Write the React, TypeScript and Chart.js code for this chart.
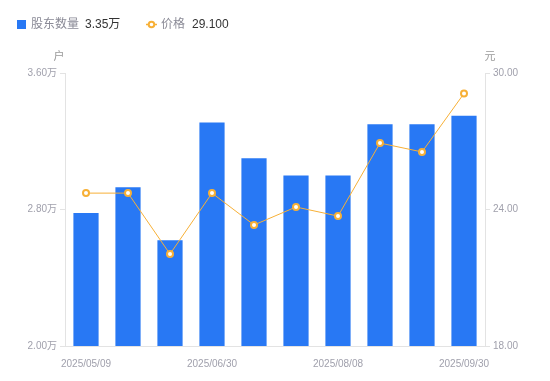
import React, { useEffect, useRef } from 'react';
import { Chart, registerables } from 'chart.js';

Chart.register(...registerables);

const dates = [
  '2025/05/09', '2025/05/20', '2025/06/10', '2025/06/30', '2025/07/10',
  '2025/07/20', '2025/08/08', '2025/08/20', '2025/09/10', '2025/09/30',
];
const holders = [2.78, 2.93, 2.62, 3.31, 3.1, 3.0, 3.0, 3.3, 3.3, 3.35];
const prices = [24.72, 24.72, 22.04, 24.72, 23.32, 24.11, 23.71, 26.92, 26.53, 29.1];
const shownIdx = [0, 3, 6, 9];

const BLUE = '#2878F4';
const ORANGE = '#F7B036';
const FONT = "'Liberation Sans', Arial, 'Noto Sans CJK SC', sans-serif";

const overlay = {
  id: 'overlay',
  afterDraw(chart: any) {
    const ctx = chart.ctx;
    ctx.save();
    ctx.textBaseline = 'middle';
    ctx.fillStyle = BLUE;
    ctx.fillRect(17, 20, 9, 9);
    ctx.font = `12px ${FONT}`;
    ctx.textAlign = 'left';
    ctx.fillStyle = '#8a8a96';
    ctx.fillText('股东数量', 31, 25);
    ctx.fillStyle = '#333';
    ctx.fillText(holders[holders.length - 1].toFixed(2) + '万', 85, 25);
    ctx.strokeStyle = ORANGE;
    ctx.lineWidth = 1.5;
    ctx.beginPath();
    ctx.moveTo(146, 24.5);
    ctx.lineTo(157, 24.5);
    ctx.stroke();
    ctx.beginPath();
    ctx.arc(151.5, 24.5, 2.8, 0, Math.PI * 2);
    ctx.fillStyle = '#fff';
    ctx.fill();
    ctx.lineWidth = 2;
    ctx.stroke();
    ctx.fillStyle = '#8a8a96';
    ctx.fillText('价格', 161, 25);
    ctx.fillStyle = '#333';
    ctx.fillText(prices[prices.length - 1].toFixed(3), 192, 25);
    ctx.fillStyle = '#999';
    ctx.textAlign = 'center';
    ctx.font = `11px ${FONT}`;
    const a = chart.chartArea;
    ctx.fillText('户', a.left - 6, 57);
    ctx.fillText('元', a.right + 5, 57);
    ctx.restore();
  },
};

export default function App() {
  const ref = useRef<HTMLCanvasElement | null>(null);
  useEffect(() => {
    if (!ref.current) return;
    const chart = new Chart(ref.current, {
      type: 'bar',
      data: {
        labels: dates,
        datasets: [
          {
            type: 'line',
            label: '价格',
            data: prices,
            yAxisID: 'y1',
            borderColor: ORANGE,
            borderWidth: 1,
            pointRadius: 3,
            pointBorderWidth: 2,
            pointBackgroundColor: '#fff',
            pointBorderColor: ORANGE,
            tension: 0,
            order: 0,
          } as any,
          {
            type: 'bar',
            label: '股东数量',
            data: holders,
            yAxisID: 'y',
            backgroundColor: BLUE,
            barPercentage: 0.6,
            categoryPercentage: 1,
            order: 1,
          },
        ],
      },
      options: {
        responsive: false,
        animation: false,
        layout: { padding: { top: 73, left: 0, right: 0, bottom: 0 } },
        plugins: { legend: { display: false }, tooltip: { enabled: false } },
        scales: {
          x: {
            grid: { display: false },
            border: { display: true, color: '#e3e3e3' },
            ticks: {
              autoSkip: false,
              maxRotation: 0,
              padding: 4,
              color: '#a0a0ac',
              font: { size: 10, family: FONT },
              callback: (_v: any, i: number) => (shownIdx.includes(i) ? dates[i] : ''),
            },
            afterFit: (s: any) => { s.height = 35; },
          },
          y: {
            position: 'left',
            min: 2,
            max: 3.6,
            grid: { drawOnChartArea: false, tickLength: 5, color: '#e3e3e3' },
            border: { display: true, color: '#e3e3e3' },
            ticks: {
              stepSize: 0.8,
              padding: 3,
              color: '#a0a0ac',
              font: { size: 10, family: FONT },
              callback: (v: any) => Number(v).toFixed(2) + '万',
            },
            afterFit: (s: any) => { s.width = 65; },
          },
          y1: {
            position: 'right',
            min: 18,
            max: 30,
            grid: { drawOnChartArea: false, tickLength: 5, color: '#e3e3e3' },
            border: { display: true, color: '#e3e3e3' },
            ticks: {
              stepSize: 6,
              padding: 3,
              color: '#a0a0ac',
              font: { size: 10, family: FONT },
              callback: (v: any) => Number(v).toFixed(2),
            },
            afterFit: (s: any) => { s.width = 65; },
          },
        },
      },
      plugins: [overlay],
    });
    return () => chart.destroy();
  }, []);
  return (
    <div style={{ position: 'fixed', left: 0, top: 0, width: 550, height: 381, background: '#fff' }}>
      <canvas ref={ref} width={550} height={381} />
    </div>
  );
}
